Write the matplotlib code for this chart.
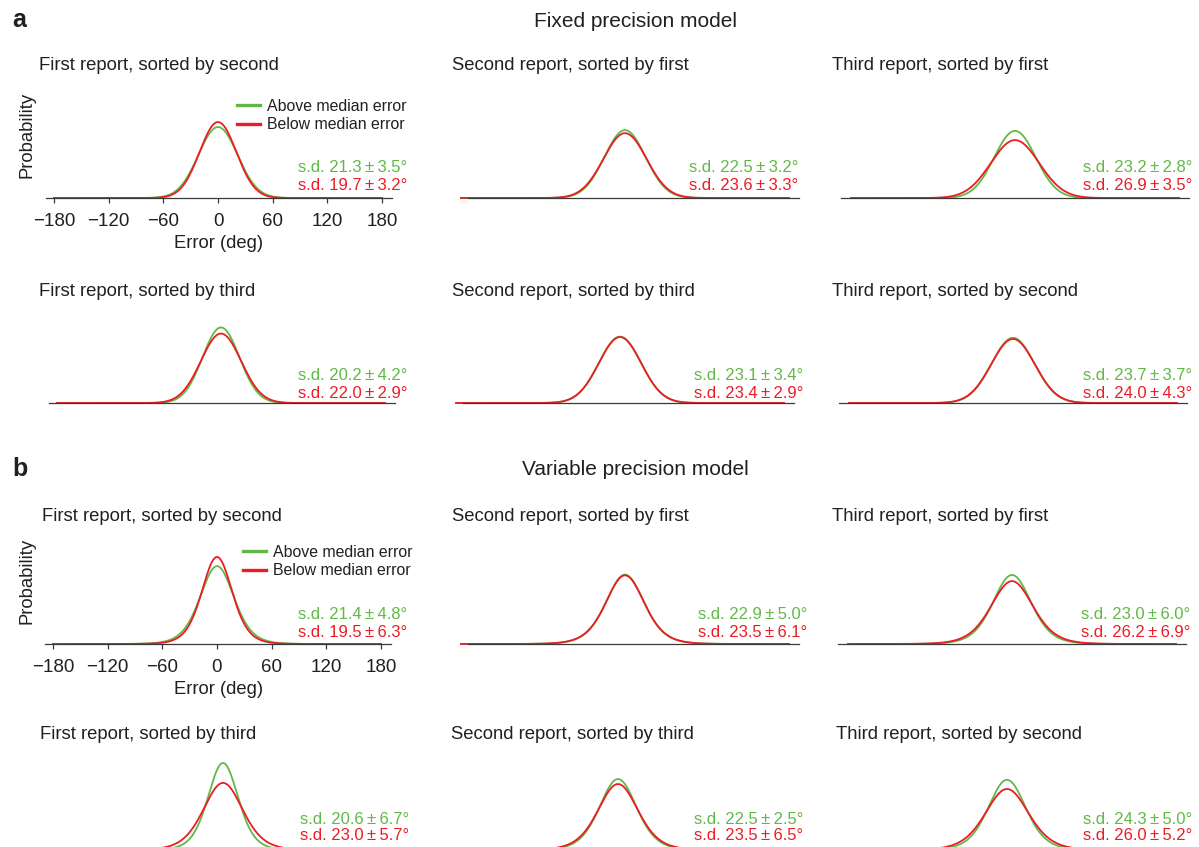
import math
import numpy as np
import matplotlib
matplotlib.use("Agg")
import matplotlib.pyplot as plt

plt.rcParams['font.family'] = ['Liberation Sans', 'DejaVu Sans']

# ---- data ----
section_titles = ["Fixed precision model", "Variable precision model"]
section_letters = ["a", "b"]

panel_titles = [
    "First report, sorted by second", "Second report, sorted by first", "Third report, sorted by first",
    "First report, sorted by third", "Second report, sorted by third", "Third report, sorted by second",
]

# s.d. labels (mean and +/-), green = above median error, red = below median error
sd_green = [21.3, 22.5, 23.2, 20.2, 23.1, 23.7, 21.4, 22.9, 23.0, 20.6, 22.5, 24.3]
pm_green = [3.5, 3.2, 2.8, 4.2, 3.4, 3.7, 4.8, 5.0, 6.0, 6.7, 2.5, 5.0]
sd_red = [19.7, 23.6, 26.9, 22.0, 23.4, 24.0, 19.5, 23.5, 26.2, 23.0, 23.5, 26.0]
pm_red = [3.2, 3.3, 3.5, 2.9, 2.9, 4.3, 6.3, 6.1, 6.9, 5.7, 6.5, 5.2]

# peak height of each curve (probability per degree)
peak_green = [0.0185, 0.0177, 0.0175, 0.0197, 0.0173, 0.0170,
              0.0203, 0.0181, 0.0180, 0.0227, 0.0185, 0.0183]
peak_red = [0.0198, 0.0169, 0.0151, 0.0181, 0.0172, 0.0167,
            0.0227, 0.0179, 0.0164, 0.0175, 0.0172, 0.0159]

xticks = [-180, -120, -60, 0, 60, 120, 180]
xticklabels = ["\u2212180", "\u2212120", "\u221260", "0", "60", "120", "180"]
legend_labels = ["Above median error", "Below median error"]

GREEN = "#62b846"
RED = "#ec1c24"
TXT = "#231f20"

# ---- layout (pixels) ----
W, H = 1199, 847
k = 328 / 360.0            # px per degree
YMAX = 0.03
AX_H = YMAX * 3835
row_base = [198, 403, 644, 850]
x_m180 = [[54, 461, 851], [57, 456, 849], [53, 461, 848], [59, 454, 843]]
title_x = [[39, 452, 832], [39, 452, 832], [42, 452, 832], [40, 451, 836]]
title_y = [70, 296, 521, 739]
sd_right = [[407, 798, 1192], [407, 803, 1192], [407, 807, 1190], [409, 803, 1192]]
sd_y = [[172, 190], [380, 398], [619, 637], [824, 840]]
col_bounds = [(-189, 191), (-172, 191), (-191, 191)]


def fx(x):
    return x / W


def fy(y):
    return 1 - y / H


def curve(x, peak, variable):
    if variable:
        nu = 8.0
        c = math.gamma((nu + 1) / 2) / (math.sqrt(nu * math.pi) * math.gamma(nu / 2))
        s = c / peak
        return peak * (1 + x ** 2 / (nu * s ** 2)) ** (-(nu + 1) / 2)
    sig = 1 / (peak * math.sqrt(2 * math.pi))
    return peak * np.exp(-x ** 2 / (2 * sig ** 2))


fig = plt.figure(figsize=(W / 100, H / 100), dpi=100)

# section headings
fig.text(fx(12), fy(27), section_letters[0], fontsize=18, fontweight="bold", color=TXT, va="baseline")
fig.text(fx(635), fy(27), section_titles[0], fontsize=15, color=TXT, ha="center", va="baseline")
fig.text(fx(12), fy(476), section_letters[1], fontsize=18, fontweight="bold", color=TXT, va="baseline")
fig.text(fx(635), fy(475), section_titles[1], fontsize=15, color=TXT, ha="center", va="baseline")

xs = np.linspace(-180, 180, 721)

for i in range(12):
    r, c = i // 3, i % 3
    variable = r >= 2
    x0 = x_m180[r][c]
    left = x0 - 12 * k
    ax = fig.add_axes([fx(left), fy(row_base[r]), 384 * k / W, AX_H / H])
    ax.set_xlim(-192, 192)
    ax.set_ylim(0, YMAX)
    for s in ["top", "right", "left"]:
        ax.spines[s].set_visible(False)
    ax.spines["bottom"].set_bounds(*col_bounds[c])
    ax.spines["bottom"].set_color("#3a3a3a")
    ax.spines["bottom"].set_linewidth(0.9)
    ax.set_yticks([])
    ax.patch.set_visible(False)

    lg, = ax.plot(xs, curve(xs, peak_green[i], variable), color=GREEN, lw=1.3, clip_on=False)
    lr, = ax.plot(xs, curve(xs, peak_red[i], variable), color=RED, lw=1.3, clip_on=False)

    if c == 0 and r in (0, 2):
        ax.set_xticks(xticks, xticklabels, fontsize=13.5, color=TXT)
        ax.tick_params(axis="x", direction="out", length=3.6, width=0.9, color="#3a3a3a", pad=7)
        leg = ax.legend([lg, lr], legend_labels, loc="upper left",
                        bbox_to_anchor=(fx(237 + (6 if r == 2 else 0)), fy(row_base[r] - 99)),
                        bbox_transform=fig.transFigure, frameon=False, fontsize=11.4,
                        handlelength=1.45, handletextpad=0.45, labelspacing=0.2,
                        borderpad=0, borderaxespad=0, labelcolor=TXT)
        for ln in leg.get_lines():
            ln.set_linewidth(2.4)
        fig.text(fx(218.5), fy(row_base[r] + 50), "Error (deg)", fontsize=13.2, color=TXT,
                 ha="center", va="baseline")
        fig.text(fx(27), fy(row_base[r] - 63), "Probability", fontsize=13.3, color=TXT,
                 rotation=90, ha="center", va="center")
    else:
        ax.set_xticks([])

    fig.text(fx(title_x[r][c]), fy(title_y[r]), panel_titles[(r % 2) * 3 + c],
             fontsize=13.3, color=TXT, va="baseline")
    fig.text(fx(sd_right[r][c]), fy(sd_y[r][0]),
             "s.d. %.1f\u2009\u00b1\u2009%.1f\u00b0" % (sd_green[i], pm_green[i]),
             fontsize=12, color=GREEN, ha="right", va="baseline")
    fig.text(fx(sd_right[r][c]), fy(sd_y[r][1]),
             "s.d. %.1f\u2009\u00b1\u2009%.1f\u00b0" % (sd_red[i], pm_red[i]),
             fontsize=12, color=RED, ha="right", va="baseline")

fig.savefig("out.png", dpi=100)
